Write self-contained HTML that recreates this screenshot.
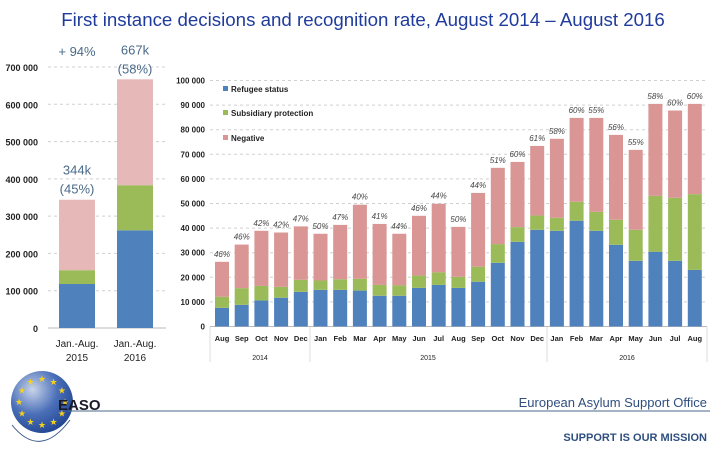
<!DOCTYPE html>
<html><head><meta charset="utf-8"><style>
body{margin:0;width:720px;height:450px;background:#fff;overflow:hidden;font-family:"Liberation Sans",sans-serif}
svg{display:block}
</style></head><body>
<svg id="c" width="720" height="450" xmlns="http://www.w3.org/2000/svg">
<text x="363" y="26" text-anchor="middle" font-size="18.7" fill="#1f3c9c">First instance decisions and recognition rate,  August 2014 – August 2016</text>
<g id="left"></g><g id="right"></g>
<g>
<defs><radialGradient id="gl" cx="0.35" cy="0.3" r="0.8"><stop offset="0" stop-color="#c8d4ea"/><stop offset="0.5" stop-color="#4a6fb8"/><stop offset="1" stop-color="#1c3f8c"/></radialGradient></defs>
<circle cx="42" cy="402" r="31" fill="url(#gl)"/>
<g id="stars" fill="#f5d020" font-size="9" text-anchor="middle"></g>
<text x="58" y="410" font-size="15" font-weight="bold" fill="#1a1a2a">EASO</text>
<path d="M12 425 Q40 460 70 420" fill="none" stroke="#3a5a8a" stroke-width="1"/>
</g>
<line x1="68" y1="411" x2="710" y2="411" stroke="#4a6a8a" stroke-width="1"/>
<text x="707" y="411" dy="-4" text-anchor="end" font-size="13" fill="#2f4f7f">European Asylum Support Office</text>
<text x="707" y="441" text-anchor="end" font-size="11" font-weight="bold" fill="#2f4f7f">SUPPORT IS OUR MISSION</text>
</svg>
<script>
const NS='http://www.w3.org/2000/svg';
const leftCats=['Jan.-Aug.|2015','Jan.-Aug.|2016'];
const leftRefugee=[118000,262000];
const leftSubsidiary=[37000,121000];
const leftNegative=[189000,284000];
const leftTotals=['344k','667k'];
const leftRates=['(45%)','(58%)'];
const leftTicks=[0,100000,200000,300000,400000,500000,600000,700000];
const leftTickLabels=['0','100 000','200 000','300 000','400 000','500 000','600 000','700 000'];
const months=['Aug','Sep','Oct','Nov','Dec','Jan','Feb','Mar','Apr','May','Jun','Jul','Aug','Sep','Oct','Nov','Dec','Jan','Feb','Mar','Apr','May','Jun','Jul','Aug'];
const refugee=[7.6,8.8,10.6,11.7,14.1,14.9,14.9,14.6,12.5,12.5,15.7,16.9,15.7,18.2,25.9,34.4,39.3,38.9,43.0,38.9,33.2,26.7,30.4,26.7,23.0];
const subsidiary=[4.5,6.8,5.9,4.4,4.9,3.8,4.3,4.8,4.4,4.2,5.0,5.1,4.5,6.1,7.6,6.0,5.8,5.3,7.7,7.7,10.2,12.6,22.7,25.6,30.8];
const negative=[14.2,17.7,22.4,22.1,21.7,19.0,22.1,30.1,24.8,21.0,24.3,27.9,20.3,30.0,31.0,26.5,28.3,32.1,34.1,38.2,34.5,32.5,37.4,35.5,36.7];
const rates=['46%','46%','42%','42%','47%','50%','47%','40%','41%','44%','46%','44%','50%','44%','51%','60%','61%','58%','60%','55%','56%','55%','58%','60%','60%'];
const rightTicks=[0,10,20,30,40,50,60,70,80,90,100];
const rightTickLabels=['0','10 000','20 000','30 000','40 000','50 000','60 000','70 000','80 000','90 000','100 000'];
const years=['2014','2015','2016'];
const C={b:'#4f81bd',g:'#9bbb59',n:'#d99694'};
function mk(p,t,a,txt){const e=document.createElementNS(NS,t);for(const k in a)e.setAttribute(k,a[k]);if(txt!=null)e.textContent=txt;p.appendChild(e);return e;}
const L=document.getElementById('left');
const ly=v=>328-v/700000*261;
leftTicks.forEach((t,i)=>{
 if(i>0){const g=mk(L,'line',{x1:48,x2:166,y1:ly(t),y2:ly(t),stroke:'#d0d0d0','stroke-dasharray':'3,3'});}
 const tx=mk(L,'text',{x:38,y:ly(t)+4,'text-anchor':'end','font-size':9,'font-weight':'bold',fill:'#222'},leftTickLabels[i]);
 
});
const la=mk(L,'line',{x1:48,x2:166,y1:328,y2:328,stroke:'#bbb'});
leftCats.forEach((c,i)=>{
 const x=59+i*58,w=36;const b=leftRefugee[i],s=leftSubsidiary[i],n=leftNegative[i];
 const r1=mk(L,'rect',{x:x,y:ly(b),width:w,height:328-ly(b),fill:C.b});
 const r2=mk(L,'rect',{x:x,y:ly(b+s),width:w,height:ly(b)-ly(b+s),fill:C.g});
 const r3=mk(L,'rect',{x:x,y:ly(b+s+n),width:w,height:ly(b+s)-ly(b+s+n),fill:'#e6b9b8'});
 const top=ly(b+s+n);
 const t1=mk(L,'text',{x:x+w/2,y:top-25,'text-anchor':'middle','font-size':13,fill:'#4a6a8a'},leftTotals[i]);
 const t2=mk(L,'text',{x:x+w/2,y:top-6,'text-anchor':'middle','font-size':13,fill:'#4a6a8a'},leftRates[i]);
 const parts=c.split('|');
 const c1=mk(L,'text',{x:x+w/2,y:347,'text-anchor':'middle','font-size':10,fill:'#222'},parts[0]);
 const c2=mk(L,'text',{x:x+w/2,y:361,'text-anchor':'middle','font-size':10,fill:'#222'},parts[1]);
});
const gr=mk(L,'text',{x:77,y:56,'text-anchor':'middle','font-size':13,fill:'#4a6a8a'},'+ 94%');
const R=document.getElementById('right');
const ry=v=>326.5-v/100*246;
const rx=i=>215+i*19.7;
rightTicks.forEach((t,i)=>{
 if(i>0){const g=mk(R,'line',{x1:210,x2:707,y1:ry(t),y2:ry(t),stroke:'#d0d0d0','stroke-dasharray':'3,3'});}
 const tx=mk(R,'text',{x:205,y:ry(t)+3,'text-anchor':'end','font-size':8,'font-weight':'bold',fill:'#222'},rightTickLabels[i]);
 
});
const ra=mk(R,'line',{x1:210,x2:707,y1:326.5,y2:326.5,stroke:'#bbb'});
[210,310,547,707].forEach(x=>{const l=mk(R,'line',{x1:x,x2:x,y1:327,y2:362,stroke:'#ddd'});});
months.forEach((m,i)=>{
 const x=rx(i),w=14,b=refugee[i],s=subsidiary[i],n=negative[i];
 const r1=mk(R,'rect',{x:x,y:ry(b),width:w,height:326.5-ry(b),fill:C.b});
 const r2=mk(R,'rect',{x:x,y:ry(b+s),width:w,height:ry(b)-ry(b+s),fill:C.g});
 const r3=mk(R,'rect',{x:x,y:ry(b+s+n),width:w,height:ry(b+s)-ry(b+s+n),fill:C.n});
 const p=mk(R,'text',{x:x+w/2,y:ry(b+s+n)-5,'text-anchor':'middle','font-size':8,'font-style':'italic',fill:'#444'},rates[i]);
 const ml=mk(R,'text',{x:x+w/2,y:341,'text-anchor':'middle','font-size':7.5,'font-weight':'bold',fill:'#222'},m);
});
[[260,0],[428,1],[627,2]].forEach(([x,i])=>{const y=mk(R,'text',{x:x,y:360,'text-anchor':'middle','font-size':7,fill:'#222'},years[i]);});
[['Refugee status',C.b,92],['Subsidiary protection',C.g,116],['Negative',C.n,141]].forEach(([t,c,y])=>{
 const r=mk(R,'rect',{x:223,y:y-6,width:5,height:5,fill:c});
 const tx=mk(R,'text',{x:231,y:y,'font-size':8,'font-weight':'bold',fill:'#222'},t);
});
const S=document.getElementById('stars');
for(let k=0;k<12;k++){const a=k/12*2*Math.PI;const s=mk(S,'text',{x:42+23*Math.sin(a),y:402-23*Math.cos(a)+3},'★');}
</script>
</body></html>
